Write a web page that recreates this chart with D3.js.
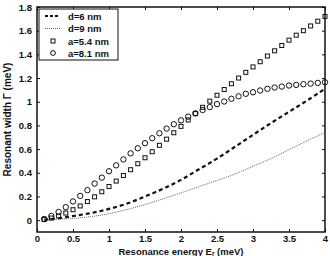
<!DOCTYPE html>
<html><head><meta charset="utf-8">
<script src="https://cdn.jsdelivr.net/npm/d3@7"></script>
<style>body{margin:0;background:#fff}svg{display:block}text{font-family:"Liberation Sans",Arial,sans-serif;font-weight:bold;fill:#111}</style>
</head><body><svg id="c" width="330" height="256"></svg>
<script>
const markerX = [0.1,0.2,0.3,0.4,0.5,0.6,0.7,0.8,0.9,1.0,1.1,1.2,1.3,1.4,1.5,1.6,1.7,1.8,1.9,2.0,2.1,2.2,2.3,2.4,2.5,2.6,2.7,2.8,2.9,3.0,3.1,3.2,3.3,3.4,3.5,3.6,3.7,3.8,3.9,4.0];
const a54 = [0.005,0.018,0.036,0.06,0.088,0.12,0.157,0.197,0.24,0.284,0.33,0.377,0.426,0.477,0.527,0.578,0.632,0.684,0.738,0.792,0.846,0.9,0.953,1.005,1.055,1.103,1.152,1.2,1.248,1.294,1.338,1.386,1.43,1.475,1.52,1.562,1.6,1.64,1.68,1.72];
const a81 = [0.01,0.035,0.069,0.11,0.158,0.205,0.253,0.309,0.359,0.413,0.463,0.513,0.564,0.607,0.65,0.692,0.734,0.773,0.81,0.843,0.874,0.902,0.93,0.955,0.98,1.002,1.025,1.046,1.067,1.08,1.095,1.109,1.12,1.128,1.137,1.142,1.148,1.153,1.159,1.164];
const lineX = [0.1,0.25,0.5,0.75,1.0,1.25,1.5,1.75,2.0,2.25,2.5,2.75,3.0,3.25,3.5,3.75,4.0];
const d6 = [0.003,0.012,0.035,0.06,0.095,0.14,0.2,0.265,0.34,0.43,0.52,0.62,0.72,0.82,0.915,1.01,1.11];
const d9 = [0.001,0.005,0.015,0.03,0.055,0.09,0.132,0.18,0.23,0.283,0.335,0.39,0.455,0.52,0.595,0.67,0.74];
const xTicks = [0,0.5,1,1.5,2,2.5,3,3.5,4];
const yTicks = [0,0.2,0.4,0.6,0.8,1,1.2,1.4,1.6,1.8];
const legendLabels = ["d=6 nm","d=9 nm","a=5.4 nm","a=8.1 nm"];

const svg = d3.select("#c");
const L=37,R=325,T=7,B=232;
const x = d3.scaleLinear().domain([0,4]).range([L,R]);
const y = d3.scaleLinear().domain([-0.1,1.8]).range([B,T]);
const fmt = d => String(+d.toFixed(1));

// axes
const gx = svg.append("g").attr("transform",`translate(0,${B})`)
  .call(d3.axisBottom(x).tickValues(xTicks).tickFormat(fmt).tickSizeInner(-3).tickSizeOuter(0).tickPadding(3.5));
const gxt = svg.append("g").attr("transform",`translate(0,${T})`)
  .call(d3.axisTop(x).tickValues(xTicks).tickFormat("").tickSizeInner(-3).tickSizeOuter(0));
const gy = svg.append("g").attr("transform",`translate(${L},0)`)
  .call(d3.axisLeft(y).tickValues(yTicks).tickFormat(fmt).tickSizeInner(-3).tickSizeOuter(0).tickPadding(5));
const gyr = svg.append("g").attr("transform",`translate(${R},0)`)
  .call(d3.axisRight(y).tickValues(yTicks).tickFormat("").tickSizeInner(-3).tickSizeOuter(0));
[gx,gxt,gy,gyr].forEach(g=>{g.select(".domain").remove();g.selectAll("line").attr("stroke","#111").attr("stroke-width",1);g.selectAll("text").style("font-weight","bold");});
gx.selectAll("text").attr("font-size",9.5);
gy.selectAll("text").attr("font-size",9.5);
svg.append("rect").attr("x",L).attr("y",T).attr("width",R-L).attr("height",B-T).attr("fill","none").attr("stroke","#111").attr("stroke-width",1.5);

// lines
const ln = d3.line().x(d=>x(d[0])).y(d=>y(d[1])).curve(d3.curveMonotoneX);
svg.append("path").datum(lineX.map((v,i)=>[v,d6[i]])).attr("d",ln).attr("fill","none").attr("stroke","#111").attr("stroke-width",2.2).attr("stroke-dasharray","4,3");
svg.append("path").datum(lineX.map((v,i)=>[v,d9[i]])).attr("d",ln).attr("fill","none").attr("stroke","#666").attr("stroke-width",1).attr("stroke-dasharray","1,1");

// markers
svg.append("g").selectAll("rect").data(markerX.map((v,i)=>[v,a54[i]])).join("rect")
  .attr("x",d=>x(d[0])-2).attr("y",d=>y(d[1])-2).attr("width",4).attr("height",4)
  .attr("fill","none").attr("stroke","#111").attr("stroke-width",1);
svg.append("g").selectAll("circle").data(markerX.map((v,i)=>[v,a81[i]])).join("circle")
  .attr("cx",d=>x(d[0])).attr("cy",d=>y(d[1])).attr("r",2.7)
  .attr("fill","none").attr("stroke","#111").attr("stroke-width",1);

// legend
const lg = svg.append("g");
lg.append("rect").attr("x",39).attr("y",9).attr("width",79).attr("height",51).attr("fill","#fff").attr("stroke","#111").attr("stroke-width",1);
const ly = [16,28.5,41,53];
legendLabels.forEach((t,i)=>{
  lg.append("text").attr("x",68).attr("y",ly[i]+3.5).attr("font-size",9.5).text(t);
});
lg.append("line").attr("x1",45).attr("x2",60).attr("y1",ly[0]).attr("y2",ly[0]).attr("stroke","#111").attr("stroke-width",2).attr("stroke-dasharray","3,2");
lg.append("line").attr("x1",45).attr("x2",60).attr("y1",ly[1]).attr("y2",ly[1]).attr("stroke","#666").attr("stroke-width",1).attr("stroke-dasharray","1,1");
lg.append("rect").attr("x",51).attr("y",ly[2]-2).attr("width",4).attr("height",4).attr("fill","none").attr("stroke","#111");
lg.append("circle").attr("cx",53).attr("cy",ly[3]).attr("r",2.4).attr("fill","none").attr("stroke","#111");

// axis titles
const xt = svg.append("text").attr("x",(L+R)/2).attr("y",254.6).attr("text-anchor","middle").attr("font-size",9.5);
xt.append("tspan").text("Resonance energy E");
xt.append("tspan").attr("font-size",6.5).attr("dy",1).text("r");
xt.append("tspan").attr("dy",-1).text(" (meV)");
svg.append("text").attr("transform",`translate(11,${(T+B)/2}) rotate(-90)`).attr("text-anchor","middle").attr("font-size",10).text("Resonant width Γ (meV)");
</script></body></html>
